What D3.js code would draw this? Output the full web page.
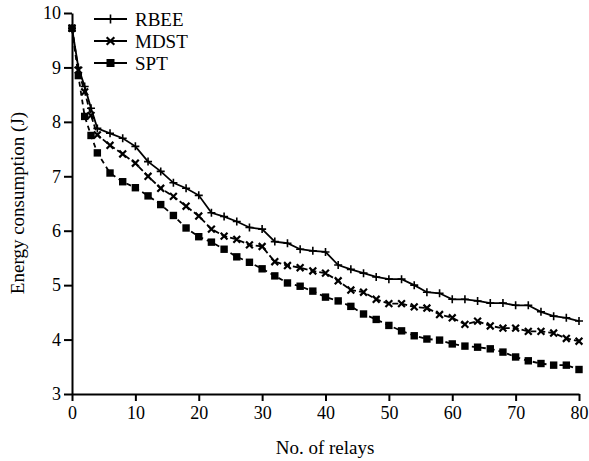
<!DOCTYPE html>
<html lang="en">
<head>
    <meta charset="UTF-8">
    <title>Energy consumption vs relays</title>
    <script src="https://d3js.org/d3.v7.min.js"></script>
    <style>
        body { margin: 0; background: #fff; }
        text { font-family: "Liberation Serif", "Times New Roman", serif; fill: #000; }
    </style>
</head>
<body>
    <svg id="chart" width="589" height="461"></svg>
    <script>
        // data
        var relays = [0, 1, 2, 3, 4, 6, 8, 10, 12, 14, 16, 18, 20, 22, 24, 26, 28, 30, 32, 34, 36, 38, 40,
                      42, 44, 46, 48, 50, 52, 54, 56, 58, 60, 62, 64, 66, 68, 70, 72, 74, 76, 78, 80];
        var rbee = [9.72, 9.0, 8.65, 8.25, 7.88, 7.79, 7.70, 7.55, 7.27, 7.09, 6.88, 6.78, 6.65, 6.33, 6.26, 6.17, 6.06, 6.03, 5.80, 5.77, 5.66, 5.63, 5.61,
                    5.37, 5.29, 5.22, 5.15, 5.11, 5.11, 5.00, 4.87, 4.85, 4.74, 4.74, 4.71, 4.67, 4.67, 4.63, 4.63, 4.51, 4.43, 4.40, 4.34];
        var mdst = [9.72, 8.95, 8.55, 8.12, 7.76, 7.57, 7.41, 7.24, 7.00, 6.78, 6.63, 6.45, 6.27, 6.03, 5.90, 5.84, 5.74, 5.71, 5.43, 5.36, 5.32, 5.26, 5.22,
                    5.08, 4.91, 4.87, 4.74, 4.66, 4.66, 4.60, 4.58, 4.46, 4.40, 4.28, 4.34, 4.25, 4.21, 4.21, 4.15, 4.15, 4.12, 4.02, 3.97];
        var spt = [9.72, 8.85, 8.10, 7.75, 7.43, 7.06, 6.90, 6.79, 6.64, 6.48, 6.28, 6.05, 5.89, 5.79, 5.66, 5.52, 5.42, 5.30, 5.17, 5.04, 4.98, 4.89, 4.78,
                   4.71, 4.61, 4.47, 4.37, 4.26, 4.16, 4.07, 4.01, 3.99, 3.92, 3.88, 3.86, 3.83, 3.77, 3.68, 3.61, 3.56, 3.53, 3.53, 3.45];
        var seriesNames = ["RBEE", "MDST", "SPT"];
        var xTicks = [0, 10, 20, 30, 40, 50, 60, 70, 80];
        var yTicks = [3, 4, 5, 6, 7, 8, 9, 10];

        var svg = d3.select("#chart");

        var x = d3.scaleLinear().domain([0, 80]).range([72, 579]);
        var y = d3.scaleLinear().domain([3, 10]).range([394, 13]);

        var series = [
            { name: seriesNames[0], values: rbee, dash: null, marker: "plus" },
            { name: seriesNames[1], values: mdst, dash: "6,3", marker: "cross" },
            { name: seriesNames[2], values: spt, dash: "5,4", marker: "square" }
        ];

        // marker shapes
        function drawMarker(g, type, cx, cy, size) {
            if (type === "plus") {
                g.append("path")
                    .attr("d", "M" + (cx - size) + "," + cy + "H" + (cx + size) + "M" + cx + "," + (cy - size) + "V" + (cy + size))
                    .attr("stroke", "#000").attr("stroke-width", 1.6);
            } else if (type === "cross") {
                var s = size * 0.85;
                g.append("path")
                    .attr("d", "M" + (cx - s) + "," + (cy - s) + "L" + (cx + s) + "," + (cy + s) +
                               "M" + (cx - s) + "," + (cy + s) + "L" + (cx + s) + "," + (cy - s))
                    .attr("stroke", "#000").attr("stroke-width", 2.2);
            } else {
                g.append("rect")
                    .attr("x", cx - size).attr("y", cy - size)
                    .attr("width", size * 2).attr("height", size * 2)
                    .attr("fill", "#000");
            }
        }

        var line = d3.line()
            .x(function(d, i) { return x(relays[i]); })
            .y(function(d) { return y(d); });

        series.forEach(function(s) {
            svg.append("path")
                .datum(s.values)
                .attr("d", line)
                .attr("fill", "none")
                .attr("stroke", "#000")
                .attr("stroke-width", 1.8)
                .attr("stroke-dasharray", s.dash);

            var mg = svg.append("g");
            s.values.forEach(function(v, i) {
                drawMarker(mg, s.marker, x(relays[i]), y(v), s.marker === "square" ? 3.7 : 4);
            });
        });

        // axes
        var xAxis = svg.append("g")
            .attr("transform", "translate(0,394)")
            .call(d3.axisBottom(x).tickValues(xTicks).tickFormat(d3.format("d"))
                .tickSize(7).tickPadding(5).tickSizeOuter(0));
        var yAxis = svg.append("g")
            .attr("transform", "translate(72,0)")
            .call(d3.axisLeft(y).tickValues(yTicks).tickFormat(d3.format("d"))
                .tickSize(8).tickPadding(3).tickSizeOuter(0));

        [xAxis, yAxis].forEach(function(a) {
            a.attr("font-family", null);
            a.select(".domain").attr("stroke", "#000").attr("stroke-width", 2);
            a.selectAll(".tick line").attr("stroke", "#000").attr("stroke-width", 2);
            a.selectAll(".tick text")
                .style("font-family", "'Liberation Serif', 'Times New Roman', serif")
                .style("font-size", "18px")
                .attr("fill", "#000");
        });

        // axis titles
        svg.append("text")
            .attr("x", 325)
            .attr("y", 454)
            .attr("text-anchor", "middle")
            .style("font-size", "19px")
            .text("No. of relays");

        svg.append("text")
            .attr("transform", "translate(24,203) rotate(-90)")
            .attr("text-anchor", "middle")
            .style("font-size", "19px")
            .text("Energy consumption (J)");

        // legend
        var legend = svg.append("g");
        series.forEach(function(s, i) {
            var ly = 19 + i * 22;
            legend.append("line")
                .attr("x1", 94).attr("x2", 127)
                .attr("y1", ly).attr("y2", ly)
                .attr("stroke", "#000").attr("stroke-width", 1.8);
            drawMarker(legend, s.marker, 110.5, ly, s.marker === "square" ? 4 : 4.5);
            legend.append("text")
                .attr("x", 135)
                .attr("y", ly)
                .attr("dy", "0.35em")
                .style("font-size", "19px")
                .text(s.name);
        });
    </script>
</body>
</html>
